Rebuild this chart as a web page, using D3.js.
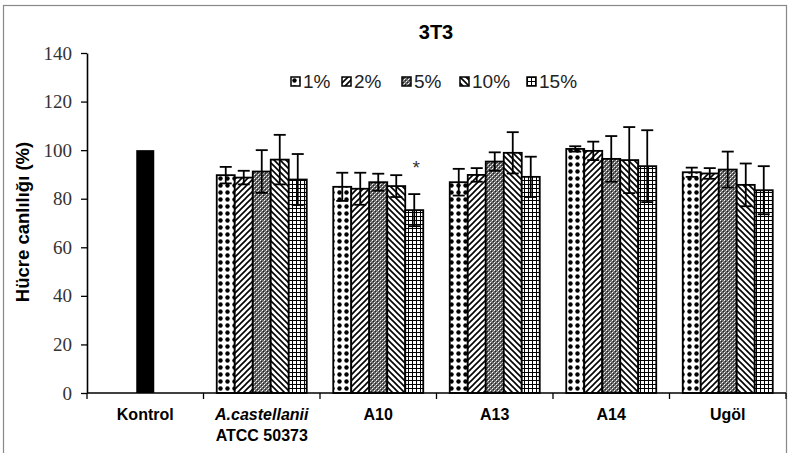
<!DOCTYPE html>
<html>
<head>
<meta charset="utf-8">
<script src="https://cdn.jsdelivr.net/npm/d3@7"></script>
<style>
  body { margin: 0; background: #fff; }
  svg { display: block; }
  .sans { font-family: "Liberation Sans", Arial, sans-serif; }
</style>
</head>
<body>
<div id="chart"></div>
<script>
// chart data
var categories = ["Kontrol", "A.castellanii", "A10", "A13", "A14", "Ugöl"];
var groups = ["A.castellanii", "A10", "A13", "A14", "Ugöl"];
var series = ["1%", "2%", "5%", "10%", "15%"];
var kontrolValue = 100;
// values per series, in the order of groups
var values = [
  [89.7, 84.9, 86.8, 100.5, 90.9],
  [88.7, 84.1, 89.8, 99.7, 90.4],
  [91.2, 86.8, 95.3, 96.4, 92.0],
  [96.1, 85.2, 98.9, 95.9, 85.7],
  [87.9, 75.3, 89.0, 93.4, 83.5]
];
var errors = [
  [3.4, 5.8, 5.5, 1.1, 1.9],
  [2.8, 6.6, 2.8, 3.8, 2.2],
  [8.8, 3.5, 3.8, 9.4, 7.4],
  [10.2, 4.5, 8.5, 13.6, 8.8],
  [10.5, 6.6, 8.3, 14.8, 9.9]
];
var yTicks = [0, 20, 40, 60, 80, 100, 120, 140];
var starMarks = [{group: "A10", series: "15%"}];

var width = 791, height = 453;
var svg = d3.select("#chart").append("svg")
  .attr("width", width)
  .attr("height", height);

// patterns
var defs = svg.append("defs");
function pat(id, size, bg) {
  var p = defs.append("pattern").attr("id", id)
    .attr("patternUnits", "userSpaceOnUse")
    .attr("width", size).attr("height", size);
  p.append("rect").attr("width", size).attr("height", size).attr("fill", bg || "#fff");
  return p;
}
var p1 = pat("p1", 7);
p1.append("circle").attr("cx", 3.5).attr("cy", 3.5).attr("r", 2.2).attr("fill", "#000");
var p2 = pat("p2", 6);
p2.append("path").attr("d", "M-1,7 L7,-1 M-1,1 L1,-1 M5,7 L7,5").attr("stroke", "#000").attr("stroke-width", 1.6);
var p3 = pat("p3", 4, "#666");
[[0, 0, "#fff"], [2, 2, "#fff"], [1, 3, "#aaa"], [3, 1, "#aaa"], [1, 1, "#222"], [3, 3, "#222"]].forEach(function(c) {
  p3.append("rect").attr("x", c[0]).attr("y", c[1]).attr("width", 1).attr("height", 1)
    .attr("fill", c[2]).attr("shape-rendering", "crispEdges");
});
var p4 = pat("p4", 6);
p4.append("path").attr("d", "M-1,-1 L7,7 M5,-1 L7,1 M-1,5 L1,7").attr("stroke", "#000").attr("stroke-width", 1.6);
var p5 = pat("p5", 4);
p5.append("path").attr("d", "M0,0.5 H4 M0.5,0 V4").attr("stroke", "#000").attr("stroke-width", 1);
var fills = ["url(#p1)", "url(#p2)", "url(#p3)", "url(#p4)", "url(#p5)"];

// border
svg.append("rect")
  .attr("x", 3.5).attr("y", 5.5)
  .attr("width", 783).attr("height", 460)
  .attr("fill", "none").attr("stroke", "#888").attr("stroke-width", 1.2);

var x = d3.scaleBand().domain(categories).range([87, 786]);
var y = d3.scaleLinear().domain([0, 140]).range([393, 53]);
var barW = 18;
var xs = d3.scaleBand().domain(series).range([0, barW * series.length]);

// title
svg.append("text")
  .attr("class", "sans")
  .attr("x", 436).attr("y", 39)
  .attr("text-anchor", "middle")
  .style("font-weight", "bold").style("font-size", "20px")
  .text("3T3");

// y axis
var yAxis = d3.axisLeft(y).tickValues(yTicks).tickSize(6).tickSizeOuter(0);
var gy = svg.append("g").attr("transform", "translate(87,0)").call(yAxis);
gy.select(".domain").attr("stroke-width", 1.6);
gy.selectAll(".tick line").attr("stroke-width", 1.3);
gy.selectAll(".tick text")
  .style("font-family", "'Liberation Serif', 'Times New Roman', serif")
  .style("font-size", "19px").attr("fill", "#333").attr("x", -15);

svg.append("text")
  .attr("class", "sans")
  .attr("transform", "translate(29,222) rotate(-90)")
  .attr("text-anchor", "middle")
  .style("font-weight", "bold").style("font-size", "18.5px")
  .text("Hücre canlılığı (%)");

// bars
var barData = [];
series.forEach(function(s, i) {
  groups.forEach(function(g, j) {
    barData.push({group: g, series: s, si: i, value: values[i][j], err: errors[i][j]});
  });
});
function barX(d) {
  return x(d.group) + (x.bandwidth() - barW * series.length) / 2 + xs(d.series);
}

svg.append("rect")
  .attr("x", x("Kontrol") + x.bandwidth() / 2 - barW / 2)
  .attr("y", y(kontrolValue))
  .attr("width", barW)
  .attr("height", y(0) - y(kontrolValue))
  .attr("fill", "#000");

svg.selectAll(".bar").data(barData).enter().append("rect")
  .attr("class", "bar")
  .attr("x", barX)
  .attr("y", d => y(d.value))
  .attr("width", barW)
  .attr("height", d => y(0) - y(d.value))
  .attr("fill", d => fills[d.si])
  .attr("stroke", "#000").attr("stroke-width", 1.8);

// error bars
var eb = svg.selectAll(".err").data(barData).enter().append("g").attr("class", "err");
eb.append("line")
  .attr("x1", d => barX(d) + barW / 2).attr("x2", d => barX(d) + barW / 2)
  .attr("y1", d => y(d.value + d.err)).attr("y2", d => y(d.value - d.err))
  .attr("stroke", "#000").attr("stroke-width", 1.8);
eb.append("line")
  .attr("x1", d => barX(d) + barW / 2 - 6).attr("x2", d => barX(d) + barW / 2 + 6)
  .attr("y1", d => y(d.value + d.err)).attr("y2", d => y(d.value + d.err))
  .attr("stroke", "#000").attr("stroke-width", 1.8);
eb.append("line")
  .attr("x1", d => barX(d) + barW / 2 - 6).attr("x2", d => barX(d) + barW / 2 + 6)
  .attr("y1", d => y(d.value - d.err)).attr("y2", d => y(d.value - d.err))
  .attr("stroke", "#000").attr("stroke-width", 1.8);

// significance marks
starMarks.forEach(function(m) {
  var d = barData.find(b => b.group === m.group && b.series === m.series);
  svg.append("text")
    .attr("class", "sans")
    .attr("x", barX(d) + barW / 2 + 2)
    .attr("y", y(d.value + d.err) - 20)
    .attr("text-anchor", "middle")
    .style("font-size", "19px").attr("fill", "#333")
    .text("*");
});

// x axis
svg.append("line")
  .attr("x1", 87).attr("x2", 786).attr("y1", y(0)).attr("y2", y(0))
  .attr("stroke", "#000").attr("stroke-width", 1.6);
svg.selectAll(".xtick").data(categories.concat(["end"])).enter().append("line")
  .attr("x1", (d, i) => 87 + i * x.step()).attr("x2", (d, i) => 87 + i * x.step())
  .attr("y1", y(0)).attr("y2", y(0) + 6)
  .attr("stroke", "#000").attr("stroke-width", 1.3);

svg.selectAll(".xlab").data(categories).enter().append("text")
  .attr("class", "sans")
  .attr("x", d => x(d) + x.bandwidth() / 2)
  .attr("y", 420)
  .attr("text-anchor", "middle")
  .style("font-weight", "bold").style("font-size", "16px")
  .style("font-style", d => d === "A.castellanii" ? "italic" : "normal")
  .text(d => d);
svg.append("text")
  .attr("class", "sans")
  .attr("x", x("A.castellanii") + x.bandwidth() / 2)
  .attr("y", 441)
  .attr("text-anchor", "middle")
  .style("font-weight", "bold").style("font-size", "16px")
  .text("ATCC 50373");

// legend
var legendX = [291, 342, 402, 460, 527];
var lg = svg.selectAll(".leg").data(series).enter().append("g")
  .attr("transform", (d, i) => "translate(" + legendX[i] + ",77)");
lg.append("rect")
  .attr("width", 9).attr("height", 9)
  .attr("fill", (d, i) => fills[i])
  .attr("stroke", "#000").attr("stroke-width", 1.5);
lg.append("text")
  .attr("class", "sans")
  .attr("x", 12).attr("y", 11)
  .style("font-size", "19px").attr("fill", "#222")
  .text(d => d);
</script>
</body>
</html>
